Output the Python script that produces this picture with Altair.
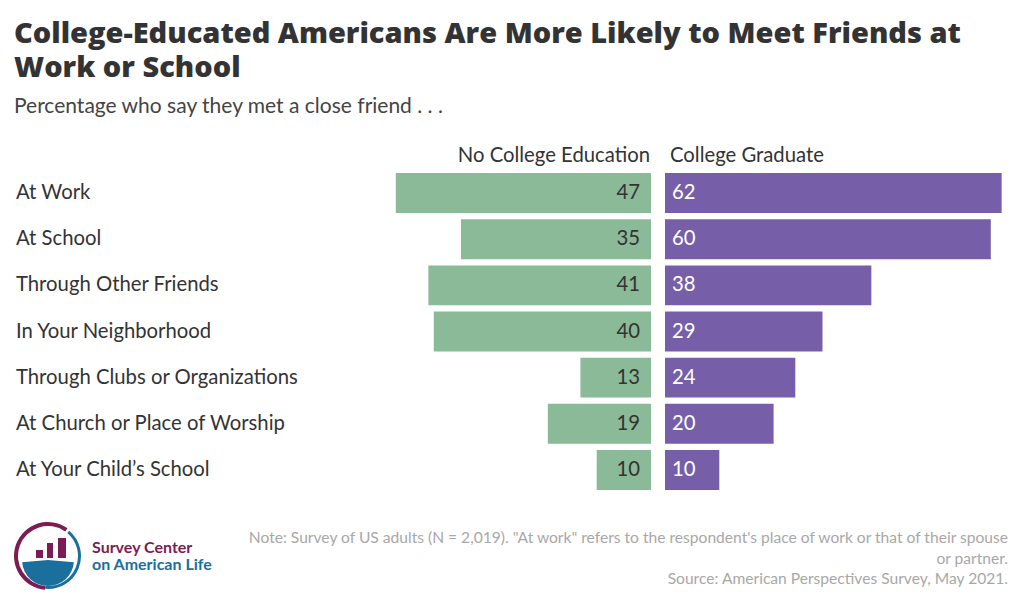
import math
import altair as alt
import pandas as pd

categories = [
    "At Work",
    "At School",
    "Through Other Friends",
    "In Your Neighborhood",
    "Through Clubs or Organizations",
    "At Church or Place of Worship",
    "At Your Child\u2019s School",
]
no_college = [47, 35, 41, 40, 13, 19, 10]
college_grad = [62, 60, 38, 29, 24, 20, 10]
group_labels = ["No College Education", "College Graduate"]
title_lines = [
    "College-Educated Americans Are More Likely to Meet Friends at",
    "Work or School",
]
subtitle = "Percentage who say they met a close friend . . ."
note_lines = [
    'Note: Survey of US adults (N = 2,019). "At work" refers to the respondent\'s place of work or that of their spouse',
    "or partner.",
    "Source: American Perspectives Survey, May 2021.",
]
logo_lines = ["Survey Center", "on American Life"]

GREEN = "#8aba98"
PURPLE = "#765fa8"
DARK = "#333333"
FONT = "Lato"
MAROON = "#7b1d52"
BLUE = "#1b6f9c"
FS = 20.3

LEFT_W, RIGHT_W, H = 635, 345, 323
PX_PER_UNIT = 5.43

df = pd.DataFrame({"category": categories, "no_college": no_college, "college": college_grad})

yenc = alt.Y(
    "category:N",
    sort=categories,
    axis=None,
    scale=alt.Scale(paddingInner=0.135, paddingOuter=0.0675),
)

base = alt.Chart(df)
one = pd.DataFrame({"a": [0]})


def text_line(txt, x, y, **kw):
    return alt.Chart(pd.DataFrame({"t": [txt]})).mark_text(baseline="alphabetic", **kw).encode(
        text="t:N", x=alt.value(x), y=alt.value(y)
    )


# ---------- left panel ----------
xl = alt.X(
    "no_college:Q",
    axis=None,
    scale=alt.Scale(domain=[0, LEFT_W / PX_PER_UNIT], reverse=True, nice=False, zero=True),
)
left_bars = base.mark_bar(color=GREEN).encode(x=xl, y=yenc)
left_vals = base.mark_text(align="right", dx=-11, font=FONT, fontSize=FS, color=DARK).encode(
    x=alt.datum(0), y=yenc, text="no_college:Q"
)
cat_labels = base.mark_text(align="left", font=FONT, fontSize=FS, color=DARK).encode(
    x=alt.value(0), y=yenc, text="category:N"
)
left_head = text_line(group_labels[0], LEFT_W - 1, -8, align="right", font=FONT, fontSize=FS, color=DARK)

logo_t1 = text_line(logo_lines[0], 76, 383, align="left", font=FONT, fontSize=16, fontWeight="bold", color=MAROON)
logo_t2 = text_line(logo_lines[1], 76, 400, align="left", font=FONT, fontSize=16, fontWeight="bold", color=BLUE)

ring_m = alt.Chart(one).mark_arc(
    color=MAROON, radius=34, radius2=30,
    theta=math.radians(185), theta2=math.radians(395),
).encode(x=alt.value(32), y=alt.value(386))
ring_b = alt.Chart(one).mark_arc(
    color=BLUE, radius=33, radius2=30,
    theta=math.radians(40), theta2=math.radians(185),
).encode(x=alt.value(32), y=alt.value(386))
hill = alt.Chart(one).mark_arc(
    color=BLUE, radius=26, radius2=0,
    theta=math.radians(95), theta2=math.radians(265),
).encode(x=alt.value(32), y=alt.value(390))
logo_bars_df = pd.DataFrame({"x": [20, 31, 42], "x2": [27, 37, 50], "y": [380, 373, 368]})
logo_bars = alt.Chart(logo_bars_df).mark_rect(color=MAROON).encode(
    x=alt.X("x:Q", scale=None), x2="x2:Q", y=alt.Y("y:Q", scale=None), y2=alt.value(388)
)

left = alt.layer(
    left_bars, left_vals, cat_labels, left_head, ring_m, ring_b, hill, logo_bars, logo_t1, logo_t2
).properties(width=LEFT_W, height=H)

# ---------- right panel ----------
xr = alt.X(
    "college:Q",
    axis=None,
    scale=alt.Scale(domain=[0, RIGHT_W / PX_PER_UNIT], nice=False, zero=True),
)
right_bars = base.mark_bar(color=PURPLE).encode(x=xr, y=yenc)
right_vals = base.mark_text(align="left", dx=7, font=FONT, fontSize=FS, color="white").encode(
    x=alt.datum(0), y=yenc, text="college:Q"
)
right_head = text_line(group_labels[1], 5, -8, align="left", font=FONT, fontSize=FS, color=DARK)

note_layers = [
    text_line(line, RIGHT_W - 2, 373 + 20.5 * i, align="right", font=FONT, fontSize=15.6, color="#a8a8a8")
    for i, line in enumerate(note_lines)
]

right = alt.layer(right_bars, right_vals, right_head, *note_layers).properties(width=RIGHT_W, height=H)

chart = (
    alt.hconcat(left, right, spacing=14, bounds="flush")
    .properties(
        title=alt.TitleParams(
            text=title_lines,
            subtitle=subtitle,
            anchor="start",
            font="Open Sans",
            fontSize=29,
            fontWeight=800,
            color=DARK,
            lineHeight=34,
            subtitleFont=FONT,
            subtitleFontSize=21,
            subtitleColor="#444444",
            subtitlePadding=13,
            offset=29,
        ),
        padding={"left": 6, "top": 12, "right": 0, "bottom": 0},
    )
    .configure_view(stroke=None)
)

chart.save("out.html", embed_options={"renderer": "svg", "actions": False})
